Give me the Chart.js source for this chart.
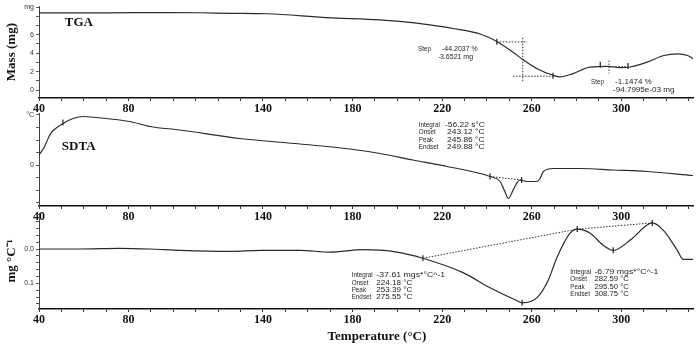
<!DOCTYPE html>
<html><head><meta charset="utf-8">
<script src="https://cdn.jsdelivr.net/npm/chart.js@4.4.0/dist/chart.umd.min.js"></script>
<style>
html,body{margin:0;padding:0;background:#fff;width:700px;height:346px;overflow:hidden;position:relative}
canvas{position:absolute;left:0}
</style></head><body>
<canvas id="c1" width="700" height="122" style="top:0px"></canvas>
<canvas id="c2" width="700" height="130" style="top:100px"></canvas>
<canvas id="c3" width="700" height="146" style="top:200px"></canvas>
<script>
// ---------- data ----------
const xTickLabels = [40, 80, 140, 180, 220, 260, 300];

const tgaTemp = [40, 70, 97, 112, 125, 142, 168.5, 192, 201, 214.5, 225, 237, 244.4, 251.7, 256.1, 262.4, 269.5, 272.6, 278.4, 286, 293.6, 299.5, 304, 311.5, 319, 325, 329.6, 332];
const tgaMass = [8.38, 8.38, 8.41, 8.39, 8.33, 8.28, 7.86, 7.62, 7.45, 7.07, 6.68, 6.08, 5.28, 4.1, 3.29, 2.32, 1.61, 1.43, 1.79, 2.5, 2.57, 2.43, 2.5, 3.03, 3.75, 3.93, 3.75, 3.4];

const sdtaTemp = [40, 42.5, 44.8, 46.1, 50.7, 55.2, 59.7, 65.6, 80.5, 89.5, 102.9, 129.7, 156.5, 178.8, 192.2, 207, 222.2, 241.4, 245.9, 247.7, 249.6, 251.7, 253.1, 254.8, 257.8, 262.3, 263.7, 265.2, 269.7, 281.6, 296.3, 311.5, 332];
const sdtaValue = [0.2, 0.37, 0.6, 0.68, 0.83, 0.93, 0.97, 0.95, 0.87, 0.77, 0.7, 0.53, 0.42, 0.32, 0.23, 0.1, -0.03, -0.23, -0.33, -0.5, -0.67, -0.5, -0.38, -0.3, -0.33, -0.33, -0.27, -0.13, -0.07, -0.07, -0.1, -0.13, -0.21];

const dtgTemp = [40, 58, 76, 89.5, 103, 125, 139, 156.5, 170, 184.6, 199.8, 211.4, 229.3, 241.4, 253.5, 255.7, 262.4, 267.3, 271.3, 277.1, 280.3, 286.1, 291.9, 296.4, 304, 311.5, 313.8, 318.7, 325, 327.6, 332];
const dtgValue = [0, 0, -0.002, 0, 0.004, 0.007, 0.004, 0.004, 0.009, 0.002, 0.009, 0.027, 0.069, 0.113, 0.151, 0.157, 0.142, 0.092, 0.024, -0.046, -0.058, -0.046, -0.011, 0.004, -0.026, -0.07, -0.076, -0.055, 0.004, 0.03, 0.03];

// step / integration construction lines
const tgaStep1HT = [244.4, 258];      const tgaStep1HV = [5.22, 5.22];
const tgaStep1VT = [256, 256];        const tgaStep1VV = [5.68, 0.86];
const tgaStep1LT = [251.7, 269.5];    const tgaStep1LV = [1.5, 1.5];
const tgaStep2VT = [294.5, 294.5];    const tgaStep2VV = [3.2, 1.8];
const tgaStep2HT = [290.6, 303];      const tgaStep2HV = [2.55, 2.55];
const tgaMarkT = [244.4, 269.5, 290.6, 303];
const tgaMarkV = [5.25, 1.55, 2.75, 2.6];

const sdtaBaseT = [241.4, 255.5];     const sdtaBaseV = [-0.23, -0.3];
const sdtaMarkT = [50.7, 241.4, 255.5];
const sdtaMarkV = [0.85, -0.23, -0.3];

const dtgBaseT = [211.4, 280.3, 313.8]; const dtgBaseV = [0.027, -0.058, -0.076];
const dtgMarkT = [211.4, 255.7, 280.3, 296.4, 313.8];
const dtgMarkV = [0.027, 0.157, -0.058, 0.004, -0.076];

// ---------- helpers ----------
const pts = (xs, ys) => xs.map((x, i) => ({x: x, y: ys[i]}));
const SERIF = '"Liberation Serif", "Times New Roman", serif';
const SANS = '"Liberation Sans", Arial, sans-serif';
const small = '7px ' + SANS;
const bold13 = 'bold 13px ' + SERIF;

const textPlugin = {
  id: 'texts',
  afterDatasetsDraw(chart, args, opts) {
    const ctx = chart.ctx, xs = chart.scales.x, ys = chart.scales.y;
    (opts.items || []).forEach(it => {
      ctx.save();
      ctx.font = it.font || small;
      ctx.fillStyle = it.color || '#1e1e1e';
      ctx.textBaseline = 'middle';
      ctx.textAlign = it.align || 'left';
      ctx.translate(xs.getPixelForValue(it.x), ys.getPixelForValue(it.y));
      const sq = it.sx || (it.font ? 1 : 0.9);
      ctx.scale(sq, 1);
      ctx.fillText(it.text, 0, 0);
      ctx.restore();
    });
  }
};

function curve(data) {
  return {data: data, borderColor: '#2a2a2a', borderWidth: 1.2, pointRadius: 0, cubicInterpolationMode: 'monotone', fill: false};
}
function dotted(data) {
  return {data: data, borderColor: '#333', borderWidth: 1, borderDash: [1.5, 1.5], pointRadius: 0, fill: false};
}
function marks(data) {
  return {data: data, showLine: false, pointStyle: 'line', rotation: 90, pointRadius: 3, borderColor: '#222', borderWidth: 1.2};
}

function xAxis(h) {
  return {
    type: 'linear', min: 40, max: 332,
    afterBuildTicks: s => { const t = []; for (let v = 40; v <= 330; v += 10) t.push({value: v}); s.ticks = t; },
    afterFit: s => { s.height = h; },
    grid: {drawOnChartArea: false, drawTicks: true, tickLength: 3, color: '#333', lineWidth: 1},
    border: {display: true, color: '#111', width: 1.5},
    ticks: {autoSkip: false, maxRotation: 0, padding: 1, color: '#111',
      font: {family: SERIF, size: 12, weight: 'bold'},
      callback: v => xTickLabels.includes(Math.round(v)) ? String(Math.round(v)) : ''},
    title: {display: false}
  };
}
function yAxis(cfg) {
  return Object.assign({
    type: 'linear',
    afterFit: s => { s.width = 39; },
    afterBuildTicks: s => { s.ticks = cfg.tickVals.map(v => ({value: v})); },
    grid: {drawOnChartArea: false, drawTicks: true, tickLength: 3, color: '#555', lineWidth: 1},
    border: {display: true, color: '#444', width: 1},
    ticks: {autoSkip: false, padding: 2, color: '#333', font: {family: SANS, size: 7}, callback: cfg.label},
    title: cfg.title ? {display: true, text: cfg.title, color: '#111', font: {family: SERIF, size: 13, weight: 'bold'}, padding: {top: 4, bottom: 0}} : {display: false}
  }, {min: cfg.min, max: cfg.max, reverse: !!cfg.reverse});
}
function baseOptions(padTop, x, y, texts) {
  return {
    responsive: false, animation: false, devicePixelRatio: 1,
    layout: {padding: {left: 0, right: 7, top: padTop, bottom: 0}},
    plugins: {legend: {display: false}, tooltip: {enabled: false}, texts: {items: texts}},
    scales: {x: x, y: y}
  };
}

// ---------- TGA ----------
const tgaTicks = []; for (let v = 0; v <= 9; v++) tgaTicks.push(v);
new Chart(document.getElementById('c1'), {
  type: 'line',
  data: {datasets: [
    curve(pts(tgaTemp, tgaMass)),
    dotted(pts(tgaStep1HT, tgaStep1HV)), dotted(pts(tgaStep1VT, tgaStep1VV)), dotted(pts(tgaStep1LT, tgaStep1LV)),
    dotted(pts(tgaStep2VT, tgaStep2VV)), dotted(pts(tgaStep2HT, tgaStep2HV)),
    marks(pts(tgaMarkT, tgaMarkV))
  ]},
  options: baseOptions(5, xAxis(24),
    yAxis({min: -0.86, max: 9.1, tickVals: tgaTicks, title: 'Mass (mg)',
      label: v => v === 9 ? 'mg' : ([0, 2, 4, 6].includes(v) ? String(v) : '')}),
    [
      {x: 51.5, y: 7.29, text: 'TGA', font: bold13, color: '#111'},
      {x: 209.2, y: 4.5, text: 'Step'},
      {x: 219.9, y: 4.5, text: '-44.2037 %', sx: 1.0},
      {x: 218.0, y: 3.59, text: '-3.6521 mg', sx: 1.0},
      {x: 286.5, y: 0.86, text: 'Step'},
      {x: 297.2, y: 0.86, text: '-1.1474 %', sx: 1.15},
      {x: 296.3, y: -0.05, text: '-94.7995e-03 mg', sx: 1.15}
    ]),
  plugins: [textPlugin]
});

// ---------- SDTA ----------
new Chart(document.getElementById('c2'), {
  type: 'line',
  data: {datasets: [
    curve(pts(sdtaTemp, sdtaValue)),
    dotted(pts(sdtaBaseT, sdtaBaseV)),
    marks(pts(sdtaMarkT, sdtaMarkV))
  ]},
  options: baseOptions(13, xAxis(24),
    yAxis({min: -0.82, max: 1.04, tickVals: [-0.75, -0.5, -0.25, 0, 0.25, 0.5, 0.75, 1],
      label: v => v === 1 ? '°C' : (v === 0 ? '0' : '')}),
    [
      {x: 50.2, y: 0.36, text: 'SDTA', font: bold13, color: '#111'},
      {x: 209.6, y: 0.8, text: 'Integral'}, {x: 221.3, y: 0.8, text: '-56.22 s°C', sx: 1.2},
      {x: 209.6, y: 0.65, text: 'Onset'}, {x: 222.2, y: 0.65, text: '243.12 °C', sx: 1.2},
      {x: 209.6, y: 0.5, text: 'Peak'}, {x: 222.2, y: 0.5, text: '245.86 °C', sx: 1.2},
      {x: 209.6, y: 0.355, text: 'Endset'}, {x: 222.2, y: 0.355, text: '249.88 °C', sx: 1.2}
    ]),
  plugins: [textPlugin]
});

// ---------- DTG ----------
const dtgTicks = []; for (let i = -5; i <= 8; i++) dtgTicks.push(Math.round(i * 2) / 100);
new Chart(document.getElementById('c3'), {
  type: 'line',
  data: {datasets: [
    curve(pts(dtgTemp, dtgValue)),
    dotted(pts(dtgBaseT, dtgBaseV)),
    marks(pts(dtgMarkT, dtgMarkV))
  ]},
  options: baseOptions(13, xAxis(37),
    yAxis({min: -0.105, max: 0.175, reverse: true, tickVals: dtgTicks, title: 'mg °C⁻¹',
      label: v => Math.abs(v) < 1e-9 ? '0.0' : (Math.abs(v - 0.1) < 1e-9 ? '0.1' : '')}),
    [
      {x: 179.6, y: 0.077, text: 'Integral'}, {x: 190.6, y: 0.077, text: '-37.61 mgs*°C^-1', sx: 1.25},
      {x: 179.6, y: 0.099, text: 'Onset'}, {x: 190.6, y: 0.099, text: '224.18 °C', sx: 1.15},
      {x: 179.6, y: 0.12, text: 'Peak'}, {x: 190.6, y: 0.12, text: '253.39 °C', sx: 1.15},
      {x: 179.6, y: 0.141, text: 'Endset'}, {x: 190.6, y: 0.141, text: '275.55 °C', sx: 1.15},
      {x: 277.2, y: 0.068, text: 'Integral'}, {x: 288.0, y: 0.068, text: '-6.79 mgs*°C^-1', sx: 1.25},
      {x: 277.2, y: 0.089, text: 'Onset'}, {x: 288.0, y: 0.089, text: '282.59 °C', sx: 1.1},
      {x: 277.2, y: 0.11, text: 'Peak'}, {x: 288.0, y: 0.11, text: '295.50 °C', sx: 1.1},
      {x: 277.2, y: 0.131, text: 'Endset'}, {x: 288.0, y: 0.131, text: '308.75 °C', sx: 1.1},
      {x: 190.9, y: 0.255, text: 'Temperature (°C)', font: bold13, color: '#111', align: 'center'}
    ]),
  plugins: [textPlugin]
});
</script>
</body></html>
